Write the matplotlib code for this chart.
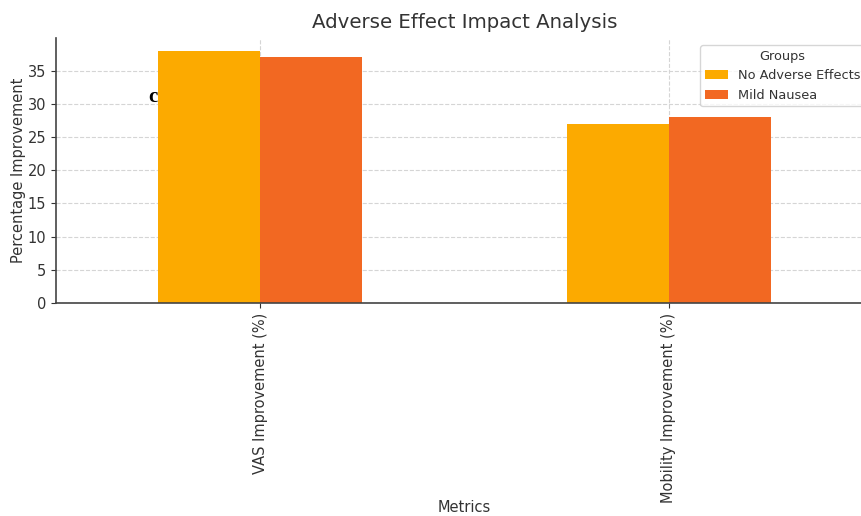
import pandas as pd
import matplotlib.pyplot as plt

# Datos del grafico
metrics = ["VAS Improvement (%)", "Mobility Improvement (%)"]
no_adverse = [38, 27]
mild_nausea = [37, 28]

df = pd.DataFrame({"No Adverse Effects": no_adverse, "Mild Nausea": mild_nausea}, index=metrics)

plt.rcParams["text.color"] = "#333333"
plt.rcParams["axes.labelcolor"] = "#333333"
plt.rcParams["xtick.color"] = "#333333"
plt.rcParams["ytick.color"] = "#333333"

fig = plt.figure(figsize=(8.62, 5.16), dpi=100)
ax = fig.add_axes([0.065, 0.413, 0.948, 0.513])

df.plot(kind="bar", ax=ax, color=["#FCAA00", "#F26822"], width=0.5)

ax.set_title("Adverse Effect Impact Analysis", fontsize=14.2, pad=7)
ax.set_xlabel("Metrics", fontsize=10.5, labelpad=-2)
ax.set_ylabel("Percentage Improvement", fontsize=10.5, labelpad=1)
ax.tick_params(axis="both", labelsize=10.5)
plt.xticks(rotation=90)
ax.grid(True, linestyle="--", color="#d5d5d5", linewidth=0.8)
ax.set_axisbelow(True)
for side in ["top", "right"]:
    ax.spines[side].set_visible(False)
for side in ["left", "bottom"]:
    ax.spines[side].set_color("#444444")
    ax.spines[side].set_linewidth(1.2)

leg = ax.legend(title="Groups", fontsize=9.3, title_fontsize=9.3, loc="upper right",
                bbox_to_anchor=(0.998, 0.997), handlelength=1.8, borderpad=0.35)
leg.get_frame().set_edgecolor("#cccccc")

# Etiqueta del panel
fig.text(153 / 862, 1 - 97 / 516, "c", fontsize=15, fontweight="bold",
         family="Liberation Serif", ha="center", va="center", color="black")

fig.savefig("out.png", dpi=100)
